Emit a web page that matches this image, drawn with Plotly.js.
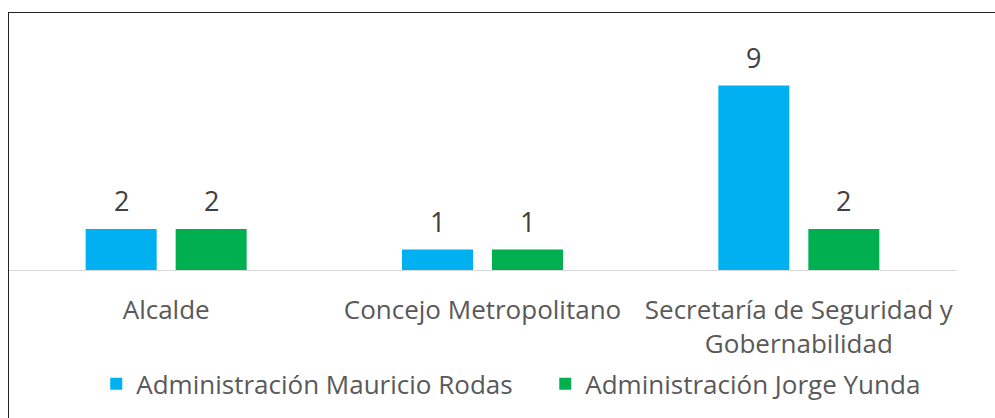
<!DOCTYPE html>
<html><head><meta charset="utf-8">
<script src="https://cdn.plot.ly/plotly-3.0.1.min.js"></script>
<style>
html,body{margin:0;padding:0;background:#fff;}
#wrap{position:relative;width:995px;height:418px;overflow:hidden;}
#chart{position:absolute;left:0;top:0;width:995px;height:418px;}
#frame{position:absolute;left:8px;top:12px;width:1100px;height:500px;border-left:1.5px solid #222;border-top:1.5px solid #222;pointer-events:none;}
</style></head>
<body><div id="wrap"><div id="chart"></div><div id="frame"></div></div>
<script>
const categories = ["Alcalde", "Concejo Metropolitano", "Secretaría de Seguridad y<br>Gobernabilidad"];
const seriesNames = ["Administración Mauricio Rodas", "Administración Jorge Yunda"];
const rodasValues = [2, 1, 9];
const yundaValues = [2, 1, 2];
const colors = ["#00B0F0", "#00B050"];

const seriesValues = [rodasValues, yundaValues];
const traces = seriesValues.map((vals, i) => ({
  type: "bar", x: categories, y: vals, name: seriesNames[i],
  marker: {color: colors[i]}, hoverinfo: "skip"
}));

const annotations = [];
seriesValues.forEach((vals, i) => {
  vals.forEach((v, j) => {
    annotations.push({
      x: categories[j], y: v, text: String(v), showarrow: false,
      xanchor: "center", yanchor: "bottom", xshift: i === 0 ? -45 : 45, yshift: 8,
      font: {family: "Open Sans", size: 27, color: "#404040"}
    });
  });
});

const layout = {
  width: 995, height: 418,
  margin: {l: 8, r: 38, t: 24, b: 148, pad: 0, autoexpand: false},
  paper_bgcolor: "#fff", plot_bgcolor: "#fff",
  font: {family: "Open Sans", size: 26, color: "#595959"},
  barmode: "group", bargap: 0.431, bargroupgap: 0.211,
  xaxis: {showline: true, linecolor: "#D9D9D9", linewidth: 1, ticks: "", showgrid: false, automargin: false,
          zeroline: false, tickfont: {size: 26, color: "#595959"}, ticklabelstandoff: 17, fixedrange: true},
  yaxis: {range: [0, 12], visible: false, showgrid: false, zeroline: false, fixedrange: true, automargin: false},
  showlegend: true,
  legend: {orientation: "h", x: 0.093, xanchor: "left", y: -0.463, yanchor: "middle",
           font: {size: 26, color: "#595959"}, bgcolor: "rgba(0,0,0,0)", traceorder: "normal",
           entrywidth: 404, entrywidthmode: "pixels"},
  annotations: annotations
};
Plotly.newPlot("chart", traces, layout, {staticPlot: true, displayModeBar: false});
</script></body></html>
